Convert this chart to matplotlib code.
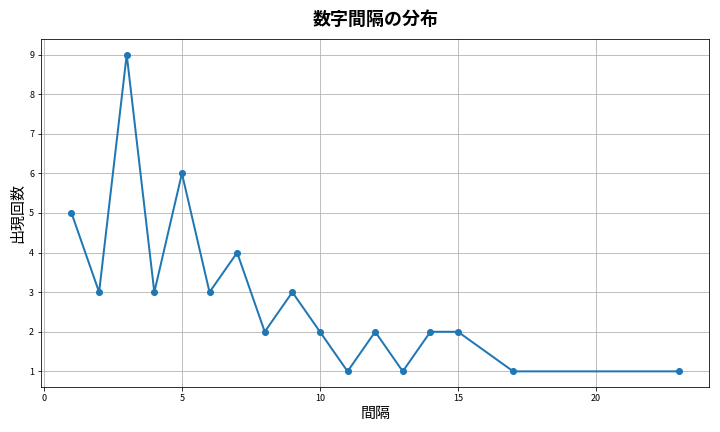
import matplotlib
matplotlib.use('Agg')
import matplotlib.pyplot as plt

plt.rcParams['font.family'] = ['Noto Sans CJK JP', 'DejaVu Sans']

# data
intervals = [1, 2, 3, 4, 5, 6, 7, 8, 9, 10, 11, 12, 13, 14, 15, 17, 23]
counts = [5, 3, 9, 3, 6, 3, 4, 2, 3, 2, 1, 2, 1, 2, 2, 1, 1]

fig, ax = plt.subplots(figsize=(10, 6), dpi=72)
ax.plot(intervals, counts, marker='o', linewidth=2, markersize=6, color='#1f77b4')
ax.set_title('数字間隔の分布', fontsize=18, fontweight='bold', pad=14)
ax.set_xlabel('間隔', fontsize=15)
ax.set_ylabel('出現回数', fontsize=15)
ax.tick_params(labelsize=9)
ax.set_yticks(range(1, 10))
ax.grid(True, color='#b0b0b0', linewidth=0.8)
fig.tight_layout()
fig.savefig('out.png')
